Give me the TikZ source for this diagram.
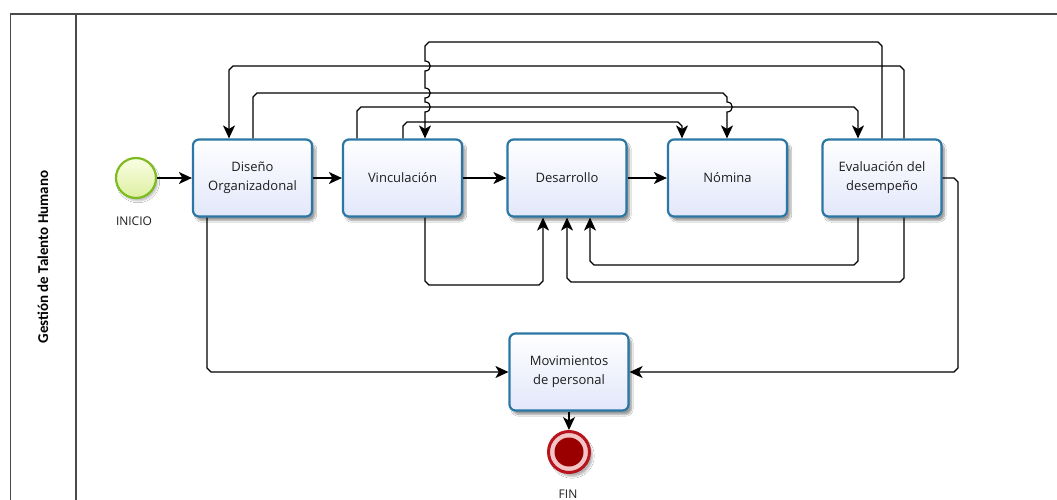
\documentclass[tikz,border=0pt]{standalone}
\usepackage{fontspec}
\usetikzlibrary{arrows.meta,shadows.blur,calc}
\newfontfamily\uifont{Open Sans}
\newfontfamily\lanefont{Carlito}
\definecolor{taskblue}{HTML}{2A76A4}
\definecolor{taskfill}{HTML}{E2E7FA}
\definecolor{startgreen}{HTML}{7DBB1F}
\definecolor{startfillA}{HTML}{FAFEE4}
\definecolor{startfillB}{HTML}{DDEFA0}
\definecolor{endred}{HTML}{B8141E}
\definecolor{endring}{HTML}{F2C6C6}
\definecolor{endcore}{HTML}{9A0000}
\definecolor{poolgray}{HTML}{4A4A4A}
\definecolor{inkgray}{HTML}{1E1E1E}
\tikzset{
  task/.style={draw=taskblue, line width=2.2pt, rounded corners=6pt,
    top color=white, bottom color=taskfill,
    minimum width=119pt, minimum height=77pt, align=center,
    font=\uifont\fontsize{13}{19}\selectfont, text=inkgray,
    blur shadow={shadow xshift=3pt, shadow yshift=-4pt, shadow blur steps=6, shadow opacity=40}},
  startev/.style={circle, draw=startgreen, line width=2.2pt, minimum size=40pt,
    inner sep=0pt, top color=startfillA, bottom color=startfillB,
    blur shadow={shadow xshift=2pt, shadow yshift=-3pt, shadow opacity=25}},
  endev/.style={circle, draw=endred, line width=3pt, fill=endring, minimum size=41pt,
    inner sep=0pt,
    blur shadow={shadow xshift=3pt, shadow yshift=-4pt, shadow opacity=30}},
  evlabel/.style={font=\uifont\fontsize{12}{14}\selectfont, text=inkgray},
  flow/.style={draw=black, line width=1.2pt,
    -{Stealth[length=13pt, width=12pt, inset=3.5pt]}},
  poolline/.style={draw=poolgray, line width=1.4pt}
}
\begin{document}
\begin{tikzpicture}[x=1pt, y=-1pt]
\useasboundingbox (0,0) rectangle (1057,500);
\fill[white] (0,0) rectangle (1057,500);

% pool and lane header
\draw[poolline] (1057,14) -- (10.5,14) -- (10.5,500);
\draw[poolline] (76,14) -- (76,500);
\node[rotate=90, font=\lanefont\bfseries\fontsize{15}{17}\selectfont, text=black]
  (lane) at (43,257) {Gestión de Talento Humano};

% events and tasks
\node[startev] (start) at (136,178) {};
\node[evlabel] (startlbl) at (134,221) {INICIO};
\node[task] (diseno) at (252.5,178) {Diseño\\Organizadonal};
\node[task] (vinc) at (402.5,178) {Vinculación};
\node[task] (desa) at (567,178) {Desarrollo};
\node[task] (nomina) at (727.5,178) {Nómina};
\node[task] (eval) at (882,178) {Evaluación del\\desempeño};
\node[task] (mov) at (569,372) {Movimientos\\de personal};
\node[endev] (fin) at (569,452) {};
\fill[endcore] (fin.center) circle (14.5pt);
\node[evlabel] (finlbl) at (568,494) {FIN};

% main sequence
\draw[flow] (start.east) -- (start.east -| diseno.west);
\draw[flow] (diseno.east) -- (vinc.west);
\draw[flow] (vinc.east) -- (desa.west);
\draw[flow] (desa.east) -- (nomina.west);

% return flows above the tasks
\draw[flow] (882,0 |- eval.north) -- (882,46) -- (878,42) -- (429,42) -- (425,46)
  -- (425,61) .. controls (432,61) and (432,71) .. (425,71)
  -- (425,88) .. controls (432,88) and (432,98) .. (425,98)
  -- (425,102) .. controls (432,102) and (432,112) .. (425,112)
  -- (425,0 |- vinc.north);
\draw[flow] (904,0 |- eval.north) -- (904,70) -- (900,66) -- (233,66) -- (229,70)
  -- (229,0 |- diseno.north);
\draw[flow] (253,0 |- diseno.north) -- (253,97) -- (257,93) -- (723,93) -- (727,97)
  -- (727,102) .. controls (734,102) and (734,112) .. (727,112)
  -- (727,0 |- nomina.north);
\draw[flow] (357,0 |- vinc.north) -- (357,111) -- (361,107) -- (854,107) -- (858,111)
  -- (858,0 |- eval.north);
\draw[flow] (403,0 |- vinc.north) -- (403,126) -- (407,122) -- (678,122) -- (682,126)
  -- (682,0 |- nomina.north);

% flows below the tasks
\draw[flow] (425,0 |- vinc.south) -- (425,281) -- (429,285) -- (539,285) -- (543,281)
  -- (543,0 |- desa.south);
\draw[flow] (858,0 |- eval.south) -- (858,261) -- (854,265) -- (594,265) -- (590,261)
  -- (590,0 |- desa.south);
\draw[flow] (904,0 |- eval.south) -- (904,278) -- (900,282) -- (571,282) -- (567,278)
  -- (567,0 |- desa.south);
\draw[flow] (eval.east) -- (954,178) -- (958,182) -- (958,368) -- (954,372)
  -- (mov.east);
\draw[flow] (207,0 |- diseno.south) -- (207,368) -- (211,372) -- (mov.west);
\draw[flow] (mov.south) -- (fin.north);
\end{tikzpicture}
\end{document}
